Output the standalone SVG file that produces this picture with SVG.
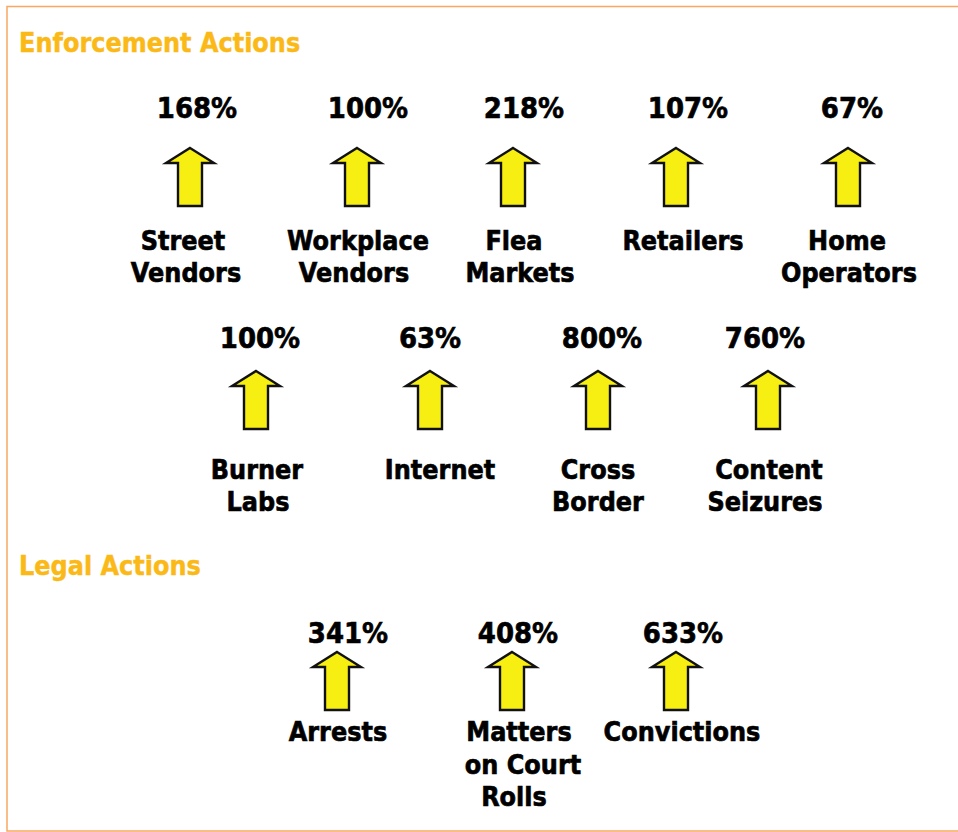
<svg xmlns="http://www.w3.org/2000/svg" xmlns:xlink="http://www.w3.org/1999/xlink" width="958" height="832" viewBox="0 0 958 832">
<style>
text{font-family:"DejaVu Sans","Verdana",sans-serif;font-weight:bold;text-anchor:middle;fill:#000;stroke:#000;stroke-width:0.6;transform:scaleY(1.1);transform-box:fill-box;transform-origin:50% 80%}
.title{fill:#FBB917;stroke:#FBB917;stroke-width:0.4;font-size:24px;text-anchor:start}
.pct{font-size:26px}
.lbl{font-size:24px}
.arr{fill:#F8EF12;stroke:#111;stroke-width:2.4;stroke-linejoin:miter}
</style>
<defs>
<path id="arrow" class="arr" d="M0,0 L24,15 L12,15 L12,58 L-12,58 L-12,15 L-24,15 Z"/>
</defs>
<rect x="0" y="0" width="958" height="832" fill="#fff"/>
<rect x="7" y="6.5" width="960" height="824.5" fill="none" stroke="#F9A762" stroke-width="1.5"/>
<text class="title" x="19" y="52">Enforcement Actions</text>
<text class="title" x="19" y="575">Legal Actions</text>

<g id="street-vendors"><text class="pct" x="197" y="118">168%</text><use href="#arrow" x="190" y="148"/><text class="lbl" x="183" y="250">Street</text><text class="lbl" x="186" y="282">Vendors</text></g>
<g id="workplace-vendors"><text class="pct" x="368" y="118">100%</text><use href="#arrow" x="357" y="148"/><text class="lbl" x="358" y="250">Workplace</text><text class="lbl" x="354" y="282">Vendors</text></g>
<g id="flea-markets"><text class="pct" x="524" y="118">218%</text><use href="#arrow" x="513" y="148"/><text class="lbl" x="514" y="250">Flea</text><text class="lbl" x="520" y="282">Markets</text></g>
<g id="retailers"><text class="pct" x="688" y="118">107%</text><use href="#arrow" x="676" y="148"/><text class="lbl" x="683" y="250">Retailers</text></g>
<g id="home-operators"><text class="pct" x="852" y="118">67%</text><use href="#arrow" x="848" y="148"/><text class="lbl" x="847" y="250">Home</text><text class="lbl" x="849" y="282">Operators</text></g>

<g id="burner-labs"><text class="pct" x="260" y="348">100%</text><use href="#arrow" x="256" y="371"/><text class="lbl" x="257" y="479">Burner</text><text class="lbl" x="258" y="511">Labs</text></g>
<g id="internet"><text class="pct" x="430" y="348">63%</text><use href="#arrow" x="430" y="371"/><text class="lbl" x="440" y="479">Internet</text></g>
<g id="cross-border"><text class="pct" x="602" y="348">800%</text><use href="#arrow" x="598" y="371"/><text class="lbl" x="598" y="479">Cross</text><text class="lbl" x="598" y="511">Border</text></g>
<g id="content-seizures"><text class="pct" x="765" y="348">760%</text><use href="#arrow" x="768" y="371"/><text class="lbl" x="769" y="479">Content</text><text class="lbl" x="765" y="511">Seizures</text></g>

<g id="arrests"><text class="pct" x="348" y="643">341%</text><use href="#arrow" x="337" y="652"/><text class="lbl" x="338" y="741">Arrests</text></g>
<g id="matters-on-court-rolls"><text class="pct" x="518" y="643">408%</text><use href="#arrow" x="512" y="652"/><text class="lbl" x="519" y="741">Matters</text><text class="lbl" x="523" y="774">on Court</text><text class="lbl" x="514" y="806">Rolls</text></g>
<g id="convictions"><text class="pct" x="683" y="643">633%</text><use href="#arrow" x="676" y="652"/><text class="lbl" x="682" y="741">Convictions</text></g>
<g id="connectors"></g>
</svg>
